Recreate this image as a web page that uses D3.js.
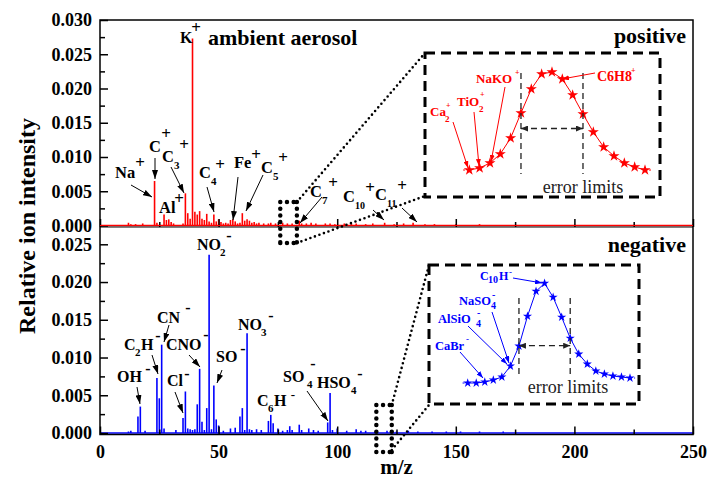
<!DOCTYPE html>
<html>
<head>
<meta charset="utf-8">
<script src="https://cdn.jsdelivr.net/npm/d3@7"></script>
<style>
  body { margin: 0; background: #fff; }
  svg text { font-family: "Liberation Serif", "Times New Roman", Times, serif; }
</style>
</head>
<body>
<svg id="chart"></svg>
<script>
// peak lists: [m/z, relative intensity]
const posPeaks = [
  [12, 0.0004], [13, 0.0002], [15, 0.0002], [18, 0.0003], [23, 0.0065], [24, 0.0004],
  [27, 0.0016], [28, 0.0008], [29, 0.0009], [30, 0.0005], [31, 0.0003], [35, 0.0003],
  [36, 0.0047], [37, 0.0018], [38, 0.0010], [39, 0.0273], [40, 0.0020], [41, 0.0016],
  [42, 0.0021], [43, 0.0010], [44, 0.0008], [45, 0.0017], [46, 0.0006], [47, 0.0004],
  [48, 0.0016], [49, 0.0006], [50, 0.0009], [51, 0.0005], [52, 0.0003], [53, 0.0004],
  [54, 0.0003], [55, 0.0008], [56, 0.0009], [57, 0.0006], [58, 0.0003], [59, 0.0004],
  [60, 0.0018], [61, 0.0007], [62, 0.0009], [63, 0.0007], [64, 0.0004], [65, 0.0005],
  [66, 0.0003], [67, 0.0004], [69, 0.0003], [71, 0.0003], [72, 0.0004], [74, 0.0003],
  [77, 0.0004], [79, 0.0003], [81, 0.0003], [84, 0.0007], [85, 0.0003], [87, 0.0003],
  [89, 0.0004], [91, 0.0003], [95, 0.0003], [97, 0.0003], [99, 0.0002], [103, 0.0003],
  [106, 0.0002], [108, 0.0003], [112, 0.0002], [115, 0.0003], [120, 0.0004], [124, 0.0002],
  [128, 0.0003], [132, 0.0004], [137, 0.0002], [141, 0.0002], [150, 0.0002], [160, 0.0002]
];
const negPeaks = [
  [12, 0.0002], [13, 0.0003], [16, 0.0022], [17, 0.0035], [19, 0.0003], [24, 0.0073],
  [25, 0.0046], [26, 0.0117], [27, 0.0006], [32, 0.0004], [35, 0.0020], [36, 0.0055],
  [37, 0.0006], [38, 0.0005], [39, 0.0004], [40, 0.0005], [41, 0.0038], [42, 0.0085],
  [43, 0.0015], [44, 0.0004], [45, 0.0033], [46, 0.0236], [47, 0.0005], [48, 0.0063],
  [49, 0.0018], [50, 0.0010], [52, 0.0003], [55, 0.0006], [57, 0.0007], [59, 0.0022],
  [60, 0.0033], [61, 0.0004], [62, 0.0132], [63, 0.0005], [64, 0.0004], [66, 0.0005],
  [68, 0.0004], [71, 0.0016], [72, 0.0024], [73, 0.0013], [75, 0.0006], [77, 0.0003],
  [79, 0.0004], [80, 0.0009], [81, 0.0004], [84, 0.0011], [85, 0.0004], [88, 0.0006],
  [90, 0.0004], [92, 0.0003], [96, 0.0014], [97, 0.0053], [98, 0.0004], [100, 0.0006],
  [104, 0.0003], [108, 0.0005], [110, 0.0003], [112, 0.0003], [116, 0.0002], [121, 0.0003],
  [125, 0.0002], [130, 0.0003], [134, 0.0002], [140, 0.0002], [146, 0.0002], [152, 0.0002],
  [160, 0.0002], [170, 0.0002]
];

const posTicks = [0, 0.005, 0.010, 0.015, 0.020, 0.025, 0.030];
const posMinor = [0.0025, 0.0075, 0.0125, 0.0175, 0.0225, 0.0275];
const negTicks = [0, 0.005, 0.010, 0.015, 0.020, 0.025];
const negMinor = [0.0025, 0.0075, 0.0125, 0.0175, 0.0225];
const mzTicks = [0, 50, 100, 150, 200, 250];
const mzMinor = [25, 75, 125, 175, 225];

// zoomed peak shapes in the insets (normalised height per point)
const insetPos = [0.00, 0.02, 0.07, 0.16, 0.32, 0.57, 0.81, 0.96, 0.98, 0.91, 0.75, 0.56, 0.38, 0.23, 0.14, 0.07, 0.03, 0.00];
const insetNeg = [0.00, 0.00, 0.01, 0.03, 0.06, 0.17, 0.37, 0.67, 0.92, 1.00, 0.86, 0.66, 0.45, 0.29, 0.19, 0.12, 0.09, 0.07, 0.06, 0.05];
const posErr = [5, 11];
const negErr = [6, 12];
const posZoomMz = [76, 83];
const negZoomMz = [116.5, 123];

const W = 710, H = 481;
const font = "Liberation Serif, Times New Roman, serif";
const mLeft = 100, mRight = 693, mTop = 20, mMid = 227, mBottom = 434.5;

const svg = d3.select("#chart").attr("width", W).attr("height", H);

const x = d3.scaleLinear().domain([0, 250]).range([mLeft, mRight]);
const yPos = d3.scaleLinear().domain([0, 0.030]).range([225.5, mTop]);
const yNeg = d3.scaleLinear().domain([0, 0.025]).range([433, 244.3]);

// arrow heads
const defs = svg.append("defs");
function marker(id, color, len, wid) {
  defs.append("marker")
    .attr("id", id)
    .attr("viewBox", `0 0 ${len} ${wid}`)
    .attr("refX", len).attr("refY", wid / 2)
    .attr("markerWidth", len).attr("markerHeight", wid)
    .attr("markerUnits", "userSpaceOnUse")
    .attr("orient", "auto-start-reverse")
    .append("path")
    .attr("d", `M0,0L${len},${wid / 2}L0,${wid}Z`)
    .attr("fill", color);
}
marker("ak", "#000", 9, 6);
marker("ar", "#ff0000", 7, 5);
marker("ab", "#0000ff", 7, 5);
marker("ag", "#222", 7, 6);

// spectra
function spectrum(peaks, y, color) {
  const g = svg.append("g");
  g.append("line")
    .attr("x1", x(0)).attr("x2", x(250))
    .attr("y1", y(0)).attr("y2", y(0))
    .attr("stroke", color).attr("stroke-width", 1.5);
  g.selectAll("line.pk")
    .data(peaks)
    .join("line")
    .attr("class", "pk")
    .attr("x1", (d) => x(d[0])).attr("x2", (d) => x(d[0]))
    .attr("y1", y(0)).attr("y2", (d) => y(d[1]))
    .attr("stroke", color).attr("stroke-width", 1.6);
}
spectrum(posPeaks, yPos, "#ff0000");
spectrum(negPeaks, yNeg, "#0000ff");

// axes
function styleAxis(g) {
  g.select(".domain").remove();
  g.attr("font-family", font);
  g.selectAll(".tick line").attr("stroke", "#000").attr("stroke-width", 1.5);
  g.selectAll("text")
    .attr("font-weight", "bold")
    .attr("font-size", "18px").attr("fill", "#000");
}
function yAxis(scale, ticks, minor) {
  svg.append("g").attr("transform", `translate(${mLeft},0)`)
    .call(d3.axisLeft(scale).tickValues(ticks).tickSize(-8).tickPadding(8)
      .tickFormat(d3.format(".3f")))
    .call(styleAxis);
  svg.append("g").attr("transform", `translate(${mLeft},0)`)
    .call(d3.axisLeft(scale).tickValues(minor).tickSize(-5).tickFormat(""))
    .call(styleAxis);
}
yAxis(yPos, posTicks, posMinor);
yAxis(yNeg, negTicks, negMinor);

function xAxis(yy, labels) {
  svg.append("g").attr("transform", `translate(0,${yy})`)
    .call(d3.axisBottom(x).tickValues(mzTicks).tickSize(-8).tickPadding(11)
      .tickFormat(labels ? d3.format("d") : ""))
    .call(styleAxis);
  svg.append("g").attr("transform", `translate(0,${yy})`)
    .call(d3.axisBottom(x).tickValues(mzMinor).tickSize(-5).tickFormat(""))
    .call(styleAxis);
}
xAxis(mBottom, true);
xAxis(mMid, false);

// frame
svg.append("rect")
  .attr("x", mLeft).attr("y", mTop)
  .attr("width", mRight - mLeft).attr("height", mBottom - mTop)
  .attr("fill", "none").attr("stroke", "#000").attr("stroke-width", 1.5);
svg.append("line")
  .attr("x1", mLeft).attr("x2", mRight).attr("y1", mMid).attr("y2", mMid)
  .attr("stroke", "#000").attr("stroke-width", 1.2);
svg.append("line")
  .attr("x1", mLeft).attr("x2", mRight).attr("y1", yPos(0)).attr("y2", yPos(0))
  .attr("stroke", "#ff0000").attr("stroke-width", 1.2);

// axis titles
svg.append("text")
  .attr("transform", "translate(35,226) rotate(-90)")
  .attr("text-anchor", "middle")
  .attr("font-weight", "bold").attr("font-size", "24px")
  .text("Relative ion intensity");
svg.append("text")
  .attr("x", (mLeft + mRight) / 2).attr("y", 474)
  .attr("text-anchor", "middle")
  .attr("font-weight", "bold").attr("font-size", "21px")
  .text("m/z");

// text helper: [text, x, y, size, anchor]
function texts(list, color, weight) {
  list.forEach(([t, tx, ty, size, anchor]) => {
    svg.append("text")
      .attr("x", tx).attr("y", ty)
      .attr("text-anchor", anchor || "start")
      .attr("font-weight", weight || "bold")
      .attr("font-size", size + "px")
      .attr("fill", color)
      .text(t);
  });
}
function arrows(list, color, mk, width) {
  list.forEach(([x1, y1, x2, y2]) => {
    svg.append("line")
      .attr("x1", x1).attr("y1", y1).attr("x2", x2).attr("y2", y2)
      .attr("stroke", color).attr("stroke-width", width || 1)
      .attr("marker-end", `url(#${mk})`);
  });
}

// positive annotations
texts([
  ["Na", 115, 178, 16.5], ["+", 140, 168, 17, "middle"],
  ["C", 149, 152, 16.5], ["+", 166, 139, 17, "middle"],
  ["C", 162, 162, 16.5], ["3", 174, 169, 11], ["+", 184, 150, 17, "middle"],
  ["Al", 159, 213, 16.5], ["+", 179, 204, 17, "middle"],
  ["K", 180, 43, 16], ["+", 196, 33, 17, "middle"],
  ["ambient aerosol", 208, 45, 22],
  ["C", 199, 178, 16.5], ["4", 211, 185, 11], ["+", 220, 170, 17, "middle"],
  ["Fe", 234, 168, 16.5], ["+", 256, 160, 17, "middle"],
  ["C", 261, 173, 16.5], ["5", 273, 180, 11], ["+", 283, 163, 17, "middle"],
  ["C", 310, 197, 16.5], ["7", 322, 204, 11], ["+", 333, 188, 17, "middle"],
  ["C", 343, 202, 16.5], ["10", 355, 209, 10], ["+", 370, 193, 17, "middle"],
  ["C", 375, 200, 16.5], ["11", 387, 207, 10], ["+", 402, 191, 17, "middle"],
  ["positive", 686, 43, 22, "end"],
  ["negative", 686, 252, 22, "end"]
], "#000");
arrows([
  [131, 185, 152, 197],
  [155, 158, 155, 179],
  [171, 167, 184, 193],
  [207, 187, 214, 212],
  [238, 177, 233, 220],
  [263, 175, 246, 211],
  [322, 197, 300, 223],
  [373, 210, 384, 220],
  [402, 208, 417, 222]
], "#000", "ak");

// negative annotations
texts([
  ["NO", 197, 250, 16], ["2", 220, 256, 11], ["-", 229, 241, 16, "middle"],
  ["CN", 157, 323, 16], ["-", 188, 313, 16, "middle"],
  ["C", 124, 350, 16], ["2", 135, 356, 11], ["H", 141, 350, 16], ["-", 158, 341, 16, "middle"],
  ["CNO", 166, 350, 16], ["-", 206, 340, 16, "middle"],
  ["SO", 216, 362, 16], ["-", 243, 354, 16, "middle"],
  ["OH", 117, 382, 16], ["-", 148, 374, 16, "middle"],
  ["Cl", 167, 386, 16], ["-", 187, 379, 16, "middle"],
  ["NO", 238, 330, 16], ["3", 261, 336, 11], ["-", 271, 321, 16, "middle"],
  ["C", 257, 406, 16], ["6", 268, 412, 11], ["H", 274, 406, 16], ["-", 293, 399, 13, "middle"],
  ["SO", 283, 382, 16], ["4", 307, 388, 11], ["-", 313, 369, 16, "middle"],
  ["HSO", 317, 388, 16], ["4", 351, 394, 11], ["-", 360, 379, 16, "middle"]
], "#000");
arrows([
  [169, 325, 164, 342],
  [152, 355, 158, 374],
  [189, 355, 200, 367],
  [222, 370, 217, 383],
  [137, 387, 140, 404],
  [175, 392, 183, 413],
  [307, 391, 328, 421]
], "#000", "ak");

// zoom markers (dotted)
function dotted(d, w, gap) {
  svg.append("path").attr("d", d)
    .attr("fill", "none").attr("stroke", "#000")
    .attr("stroke-width", w).attr("stroke-linecap", "round")
    .attr("stroke-dasharray", `0,${gap}`);
}
const px0 = x(posZoomMz[0]), px1 = x(posZoomMz[1]);
dotted(`M${px0},202V243M${px1},202V243M${px0},243H${px1}M${px0},202H${px1}`, 4.5, 6.7);
dotted(`M${px1},202L425,53M${px1},243L425,196`, 2.6, 4.8);
const nx0 = x(negZoomMz[0]), nx1 = x(negZoomMz[1]);
dotted(`M${nx0},405V452M${nx1},405V452M${nx0},452H${nx1}M${nx0},405H${nx1}`, 4.5, 6.7);
dotted(`M${nx1},405L429,265M${nx1},450L429,405`, 2.6, 4.8);

// insets
function inset(box, vals, err, color, mk, sx, sy, errY, errArrowY, errText, starSize, labels, labelArrows) {
  svg.append("rect")
    .attr("x", box[0]).attr("y", box[1])
    .attr("width", box[2] - box[0]).attr("height", box[3] - box[1])
    .attr("fill", "#fff").attr("stroke", "#000")
    .attr("stroke-width", 3).attr("stroke-dasharray", "10,6");
  const line = d3.line().x((d, i) => sx(i)).y((d) => sy(d));
  svg.append("path").datum(vals).attr("d", line)
    .attr("fill", "none").attr("stroke", color).attr("stroke-width", 1);
  svg.append("line")
    .attr("x1", sx(-0.6)).attr("x2", sx(0)).attr("y1", sy(vals[0])).attr("y2", sy(vals[0]))
    .attr("stroke", color).attr("stroke-dasharray", "2,2");
  svg.append("line")
    .attr("x1", sx(vals.length - 1)).attr("x2", sx(vals.length - 0.4))
    .attr("y1", sy(vals[vals.length - 1])).attr("y2", sy(vals[vals.length - 1]))
    .attr("stroke", color).attr("stroke-dasharray", "2,2");
  svg.append("g").selectAll("path").data(vals).join("path")
    .attr("d", d3.symbol(d3.symbolStar, starSize))
    .attr("transform", (d, i) => `translate(${sx(i)},${sy(d)})`)
    .attr("fill", color);
  err.forEach((i) => {
    svg.append("line")
      .attr("x1", sx(i)).attr("x2", sx(i)).attr("y1", errY[0]).attr("y2", errY[1])
      .attr("stroke", "#222").attr("stroke-width", 1.3).attr("stroke-dasharray", "6,4");
  });
  svg.append("line")
    .attr("x1", sx(err[0])).attr("x2", sx(err[1]))
    .attr("y1", errArrowY).attr("y2", errArrowY)
    .attr("stroke", "#222").attr("stroke-width", 1.3).attr("stroke-dasharray", "6,4")
    .attr("marker-start", "url(#ag)").attr("marker-end", "url(#ag)");
  texts([["error limits", errText[0], errText[1], 18, "middle"]], "#222", "normal");
  texts(labels, color);
  arrows(labelArrows, color, mk);
}

inset([425, 53, 660, 197], insetPos, posErr, "#ff0000", "ar",
  d3.scaleLinear().domain([0, insetPos.length - 1]).range([469.3, 645]),
  d3.scaleLinear().domain([0, 1]).range([170, 70]),
  [73, 174], 128.5, [583, 193], 38,
  [
    ["Ca", 430, 116, 13], ["2", 445, 122, 9], ["+", 446, 108, 8],
    ["TiO", 457, 106, 13], ["2", 479, 112, 9], ["+", 480, 97, 8],
    ["NaKO", 476, 83, 13], ["+", 515, 75, 8],
    ["C6H8", 597, 81, 14], ["+", 631, 73, 8]
  ],
  [
    [453, 122, 468, 168],
    [474, 112, 479, 166],
    [505, 87, 491, 162],
    [595, 73, 562, 79]
  ]);

inset([429, 265, 639, 404], insetNeg, negErr, "#0000ff", "ab",
  d3.scaleLinear().domain([0, insetNeg.length - 1]).range([467.7, 630]),
  d3.scaleLinear().domain([0, 1]).range([383, 283.3]),
  [298, 376], 345.7, [568, 393], 26,
  [
    ["C", 480, 280, 12], ["10", 488, 283, 10], ["H", 499, 280, 12], ["-", 509, 275, 9],
    ["NaSO", 459, 305, 12.5], ["4", 491, 309, 10], ["-", 492, 298, 10],
    ["AlSiO", 438, 323, 12.5], ["4", 476, 327, 10], ["-", 477, 316, 10],
    ["CaBr", 435, 350, 12.5], ["-", 466, 342, 9]
  ],
  [
    [513, 278, 542, 283],
    [492, 312, 509, 363],
    [468, 326, 507, 364],
    [460, 352, 483, 378]
  ]);
</script>
</body>
</html>
